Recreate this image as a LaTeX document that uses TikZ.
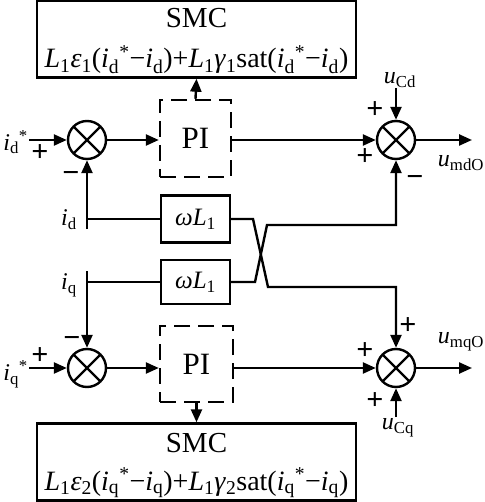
\documentclass[tikz,border=0pt]{standalone}
\usepackage{fontspec}
\setmainfont{Liberation Serif}
\usetikzlibrary{arrows.meta}
\newcommand\vi[1]{\textit{#1}}
\newcommand\sbs[1]{\textsubscript{#1}}
\newcommand\sps[1]{\textsuperscript{#1}}
\begin{document}
\begin{tikzpicture}[x=1pt,y=-1pt,
  ln/.style={line width=2.4pt},
  arr/.style={line width=2.4pt,-{Triangle[length=13pt,width=11pt]}},
  box/.style={draw,line width=2.4pt,inner sep=0pt,align=center},
  smcbox/.style={draw,line width=2.4pt,inner sep=0pt,minimum width=319pt,minimum height=77pt},
  smct/.style={inner sep=0pt,anchor=base,font=\fontsize{29}{32}\selectfont},
  smcf/.style={inner sep=0pt,anchor=base,font=\fontsize{28}{32}\selectfont},
  dbox/.style={draw,line width=2.4pt,dash pattern=on 16pt off 8pt,inner sep=0pt,minimum width=71pt,minimum height=77pt,font=\fontsize{31}{34}\selectfont},
  sumnode/.style={circle,draw,line width=2.4pt,minimum size=38pt,inner sep=0pt,
    path picture={\draw[line width=2.4pt] (path picture bounding box.north west) -- (path picture bounding box.south east)
      (path picture bounding box.north east) -- (path picture bounding box.south west);}},
  lbl/.style={inner sep=0pt,font=\fontsize{24}{28}\selectfont},
  sgn/.style={inner sep=0pt,font=\fontsize{30}{32}\selectfont\bfseries},
  wbox/.style={box,minimum width=69pt,minimum height=47pt,font=\fontsize{25}{28}\selectfont}
]
\useasboundingbox (0,0) rectangle (484,502);
% SMC boxes
\node[smcbox] (smc1) at (196.5,39) {};
\node[smct] (smc1t) at (196.5,28) {SMC};
\node[smcf] (smc1f) at (196.5,68) {\vi{L}\sbs{1}\vi{ε}\sbs{1}(\vi{i}\sbs{d}\sps{*}−\vi{i}\sbs{d})+\vi{L}\sbs{1}\vi{γ}\sbs{1}sat(\vi{i}\sbs{d}\sps{*}−\vi{i}\sbs{d})};
\node[smcbox] (smc2) at (196.5,462) {};
\node[smct] (smc2t) at (196.5,452) {SMC};
\node[smcf] (smc2f) at (196.5,490) {\vi{L}\sbs{1}\vi{ε}\sbs{2}(\vi{i}\sbs{q}\sps{*}−\vi{i}\sbs{q})+\vi{L}\sbs{1}\vi{γ}\sbs{2}sat(\vi{i}\sbs{q}\sps{*}−\vi{i}\sbs{q})};
% PI
\node[dbox] (pi1) at (195.5,138.5) {PI};
\node[dbox,minimum width=73pt,minimum height=76pt] (pi2) at (196.5,364) {PI};
% omega L
\node[wbox] (wl1) at (195.5,219) {\vi{ω}\vi{L}\sbs{1}};
\node[wbox,minimum height=44pt] (wl2) at (195.5,282) {\vi{ω}\vi{L}\sbs{1}};
% sums
\node[sumnode] (s1) at (87,140) {};
\node[sumnode] (s2) at (396,140) {};
\node[sumnode] (s3) at (87,368) {};
\node[sumnode] (s4) at (396,368) {};
% coordinates
\coordinate (in1) at (29,140);
\coordinate (in2) at (29,368);
\coordinate (o1) at (472,140);
\coordinate (o2) at (472,368);
\coordinate (cd) at (396,88);
\coordinate (cq) at (396,417);
\coordinate (idb) at (87,229);
\coordinate (iqt) at (87,271);
% labels
\node[lbl,anchor=east] (lid) at (28,142) {\vi{i}\sbs{d}\sps{*}};
\node[lbl,anchor=east] (liq) at (28,374) {\vi{i}\sbs{q}\sps{*}};
\node[lbl] (lidd) at (69,220) {\vi{i}\sbs{d}};
\node[lbl] (liqq) at (69,285) {\vi{i}\sbs{q}};
\node[lbl] (lucd) at (400,80) {\vi{u}\sbs{Cd}};
\node[lbl] (lucq) at (398,428) {\vi{u}\sbs{Cq}};
\node[lbl] (lmd) at (461,163) {\vi{u}\sbs{mdO}};
\node[lbl] (lmq) at (461,342) {\vi{u}\sbs{mqO}};
% signs
\node[sgn] (p1) at (40,153) {+};
\node[sgn] (m1) at (71,177) {−};
\node[sgn] (p2) at (375,110) {+};
\node[sgn] (p3) at (365,157) {+};
\node[sgn] (m2) at (415,181) {−};
\node[sgn] (m3) at (72,342) {−};
\node[sgn] (p4) at (40,356) {+};
\node[sgn] (p5) at (408,326) {+};
\node[sgn] (p6) at (365,351) {+};
\node[sgn] (p7) at (375,401) {+};
% connectors
\draw[arr] (in1) -- (s1);
\draw[arr] (s1) -- (pi1.west |- s1);
\draw[arr] (pi1.east |- s2) -- (s2);
\draw[arr] (s2) -- (o1);
\draw[arr] (cd) -- (s2);
\draw[arr] (pi1.north) -- (smc1.south);
\draw[arr] (idb) -- (s1);
\draw[ln] (idb |- wl1) -- (wl1.west);
\draw[arr] (in2) -- (s3);
\draw[arr] (s3) -- (pi2.west |- s3);
\draw[arr] (pi2.east |- s4) -- (s4);
\draw[arr] (s4) -- (o2);
\draw[arr] (cq) -- (s4);
\draw[arr] (pi2.south) -- (smc2.north);
\draw[arr] (iqt) -- (s3);
\draw[ln] (iqt |- wl2) -- (wl2.west);
\draw[arr] (wl1.east) -- (253,219) -- (268,287) -- (396,287) -- (s4);
\draw[arr] (wl2.east) -- (255,282) -- (267,225) -- (396,225) -- (s2);
\end{tikzpicture}
\end{document}
